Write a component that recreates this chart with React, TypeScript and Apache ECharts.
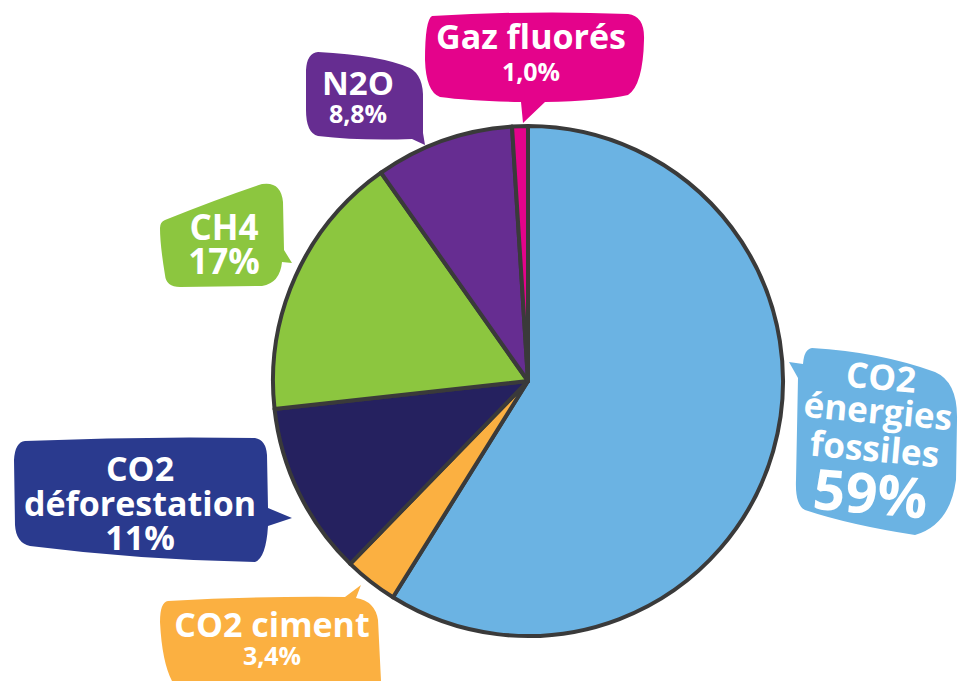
import React, { useEffect, useRef } from "react";
import * as echarts from "echarts";

// ---- data ----
const names = ["CO2 énergies fossiles", "CO2 ciment", "CO2 déforestation", "CH4", "N2O", "Gaz fluorés"];
const values = [59, 3.4, 11, 17, 8.8, 1.0];
const nameLines = [["CO2", "énergies", "fossiles"], ["CO2 ciment"], ["CO2", "déforestation"], ["CH4"], ["N2O"], ["Gaz fluorés"]];

// ---- styles ----
const sliceColors = ["#6bb3e3", "#fbb041", "#25215f", "#8cc63f", "#662d91", "#e4038b"];
const bubbleColors = ["#6bb3e3", "#fbb041", "#2a3a8e", "#8cc63f", "#662d91", "#e4038b"];

// bubble layout: outline path, group centre, rotation, first-line offset, line heights, font sizes
const bubbleLayout = [
  {
    d: "M 812 348 Q 880 352 935 372 Q 958 382 957 420 L 956 480 Q 950 525 915 535 Q 850 525 805 510 Q 795 505 796 480 L 798 378 L 789 362 L 803 364 Q 804 349 812 348 Z",
    cx: 876, cy: 434, rot: -0.09, y0: -58,
    lhs: [34, 34, 42, 46], sizes: [35, 35, 35, 56],
  },
  {
    d: "M 168 601 Q 260 596 345 597 L 361 585 L 356 598 Q 375 601 378 620 L 381 681 L 172 681 Q 162 662 160 622 Q 160 602 168 601 Z",
    cx: 272, cy: 640, rot: 0, y0: -16,
    lhs: [34, 28], sizes: [34, 25],
  },
  {
    d: "M 25 441 Q 140 436 255 438 Q 266 440 267 455 L 268 508 L 292 518 L 268 526 Q 266 558 255 562 Q 140 560 30 546 Q 16 543 15 525 L 14 460 Q 15 442 25 441 Z",
    cx: 140, cy: 503, rot: 0, y0: -35,
    lhs: [35, 35, 33], sizes: [34, 34, 34],
  },
  {
    d: "M 165 220 Q 220 198 262 184 Q 281 181 283 202 L 284 250 L 292 263 L 282 262 Q 280 283 262 286 L 180 287 Q 166 287 165 275 Q 160 245 160 228 Q 160 222 165 220 Z",
    cx: 224, cy: 243, rot: 0, y0: -17,
    lhs: [34, 34], sizes: [35, 35],
  },
  {
    d: "M 318 52 Q 380 55 410 68 Q 424 76 423 100 L 423 133 L 425 145 L 412 139 Q 360 141 318 136 Q 306 133 306 110 L 306 70 Q 307 53 318 52 Z",
    cx: 358, cy: 97, rot: 0, y0: -15,
    lhs: [34, 28], sizes: [33, 25],
  },
  {
    d: "M 432 16 Q 535 10 628 14 Q 645 16 644 40 Q 643 85 628 95 Q 600 101 545 102 L 523 123 L 521 102 Q 470 101 440 97 Q 426 92 425 60 Q 425 20 432 16 Z",
    cx: 531, cy: 53, rot: 0, y0: -17,
    lhs: [38, 32], sizes: [34, 25],
  },
];

const fmt = (v: number) => (v < 10 ? v.toFixed(1).replace(".", ",") : String(Math.round(v))) + "%";

bubbleLayout.forEach((b, i) => {
  echarts.graphic.registerShape("bubble" + i, echarts.graphic.extendPath(b.d, {}));
});

export default function App() {
  const ref = useRef<HTMLDivElement>(null);
  useEffect(() => {
    if (!ref.current) return;
    const chart = echarts.init(ref.current, null, { renderer: "svg" });
    const graphics: any[] = [];
    bubbleLayout.forEach((b, i) => {
      graphics.push({ type: "bubble" + i, x: 0, y: 0, z: 10, silent: true, style: { fill: bubbleColors[i] } });
      const lines = [...nameLines[i], fmt(values[i])];
      const total = b.lhs.reduce((s, v) => s + v, 0);
      const blockY = b.y0 - (-total / 2 + b.lhs[0] / 2);
      const rich: any = {};
      lines.forEach((_, k) => {
        rich["l" + k] = {
          fontSize: b.sizes[k],
          lineHeight: b.lhs[k],
          fontWeight: "bold",
          fontFamily: '"Open Sans", sans-serif',
          fill: "#ffffff",
          align: "center",
        };
      });
      graphics.push({
        type: "group",
        x: b.cx,
        y: b.cy,
        rotation: b.rot,
        z: 11,
        silent: true,
        children: [
          {
            type: "text",
            x: 0,
            y: blockY,
            z: 11,
            style: {
              text: lines.map((t, k) => `{l${k}|${t}}`).join("\n"),
              rich,
              fill: "#ffffff",
              fontWeight: "bold",
              fontFamily: '"Open Sans", sans-serif',
              align: "center",
              verticalAlign: "middle",
            },
          },
        ],
      });
    });
    chart.setOption({
      animation: false,
      backgroundColor: "#ffffff",
      series: [
        {
          type: "pie",
          center: [528, 381],
          radius: 255,
          startAngle: 90,
          clockwise: true,
          silent: true,
          label: { show: false },
          labelLine: { show: false },
          itemStyle: { borderColor: "#3a3a3a", borderWidth: 4 },
          data: names.map((n, i) => ({ name: n, value: values[i], itemStyle: { color: sliceColors[i] } })),
        },
      ],
      graphic: graphics,
    });
    return () => chart.dispose();
  }, []);
  return <div ref={ref} style={{ position: "absolute", left: 0, top: 0, width: 958, height: 681 }} />;
}
